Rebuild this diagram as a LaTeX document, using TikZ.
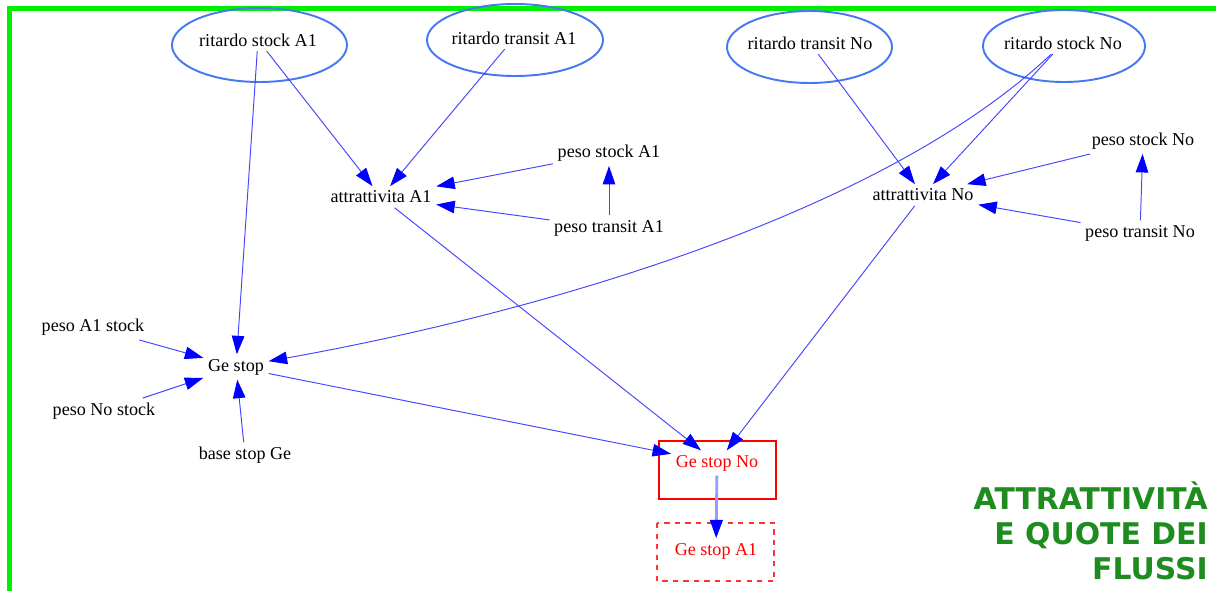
\documentclass[tikz,border=0pt]{standalone}
\usepackage{fontspec}
\setmainfont{Liberation Serif}
\newfontfamily\titlefont{DejaVu Sans}
\usetikzlibrary{arrows.meta}

\definecolor{linea}{RGB}{70,70,255}
\definecolor{ellisse}{RGB}{70,120,240}
\definecolor{verdetit}{RGB}{30,140,30}
\definecolor{bordo}{RGB}{0,240,0}

\begin{document}
\begin{tikzpicture}[x=0.02cm, y=-0.02cm,
    lbl/.style={font=\fontsize{10.3}{12}\selectfont, inner sep=2.5pt},
    rosso/.style={lbl, text=red},
    freccia/.style={draw=linea, line width=0.55pt, -{Triangle[length=0.37cm,width=0.25cm,color=blue]}},
    ritardo/.style={draw=ellisse, line width=1.1pt},
    stopbox/.style={draw=red, line width=0.8pt}]
    \useasboundingbox (0,0) rectangle (1216,591);
    \draw[bordo, line width=0.1cm] (9.5,591) |- (1216,8.5);

    % ritardi
    \node[lbl] (rsA) at (258,40) {ritardo stock A1};
    \node[lbl] (rtA) at (514,38) {ritardo transit A1};
    \node[lbl] (rtNo) at (810,43) {ritardo transit No};
    \node[lbl] (rsNo) at (1063,43) {ritardo stock No};
    \draw[ritardo] (259.5,45) ellipse [x radius=87.5, y radius=37];
    \draw[ritardo] (515,40) ellipse [x radius=88, y radius=36];
    \draw[ritardo] (809.5,47) ellipse [x radius=82.5, y radius=36];
    \draw[ritardo] (1064,46) ellipse [x radius=81, y radius=36];

    % attrattivita
    \node[lbl] (attA) at (381,197) {attrattivita A1};
    \node[lbl] (psA) at (609,153) {peso stock A1};
    \node[lbl] (ptA) at (609,228) {peso transit A1};
    \node[lbl] (attNo) at (923,195) {attrattivita No};
    \node[lbl] (psNo) at (1143,141) {peso stock No};
    \node[lbl] (ptNo) at (1140,233) {peso transit No};

    % stop
    \node[lbl] (gestop) at (236,367) {Ge stop};
    \node[lbl] (pAs) at (93,327) {peso A1 stock};
    \node[lbl] (pNs) at (104,411) {peso No stock};
    \node[lbl] (bsG) at (245,455) {base stop Ge};
    \node[rosso] (gsNo) at (717,463) {Ge stop No};
    \node[rosso] (gsA) at (716,551) {Ge stop A1};
    \draw[stopbox] (659,441) rectangle (776,499);
    \draw[stopbox, dashed, red!80] (657,523) rectangle (774,581);

    \node[anchor=east, align=right, text=verdetit, inner sep=0pt,
        font=\titlefont\bfseries\fontsize{17}{19.8}\selectfont] (title) at (1208,531)
        {ATTRATTIVITÀ\\E QUOTE DEI\\FLUSSI};

    % archi
    \draw[freccia] (rsA) -- (gestop);
    \draw[freccia] (rsA) -- (attA);
    \draw[freccia] (rtA) -- (attA);
    \draw[freccia] (psA) -- (attA);
    \draw[freccia] (ptA) -- (attA);
    \draw[freccia] (ptA) -- (psA);
    \draw[freccia] (attA) -- (gsNo);
    \draw[freccia] (rtNo) -- (attNo);
    \draw[freccia] (rsNo) -- (attNo);
    \draw[freccia] (rsNo) .. controls (870,225) and (500,320) .. (gestop);
    \draw[freccia] (psNo) -- (attNo);
    \draw[freccia] (ptNo) -- (attNo);
    \draw[freccia] (ptNo) -- (psNo);
    \draw[freccia] (attNo) -- (gsNo);
    \draw[freccia] (pAs) -- (gestop);
    \draw[freccia] (pNs) -- (gestop);
    \draw[freccia] (bsG) -- (gestop);
    \draw[freccia] (gestop) -- (gsNo);
    \draw[freccia, draw=linea!55, line width=1.6pt] (gsNo) -- (gsA);
\end{tikzpicture}
\end{document}
